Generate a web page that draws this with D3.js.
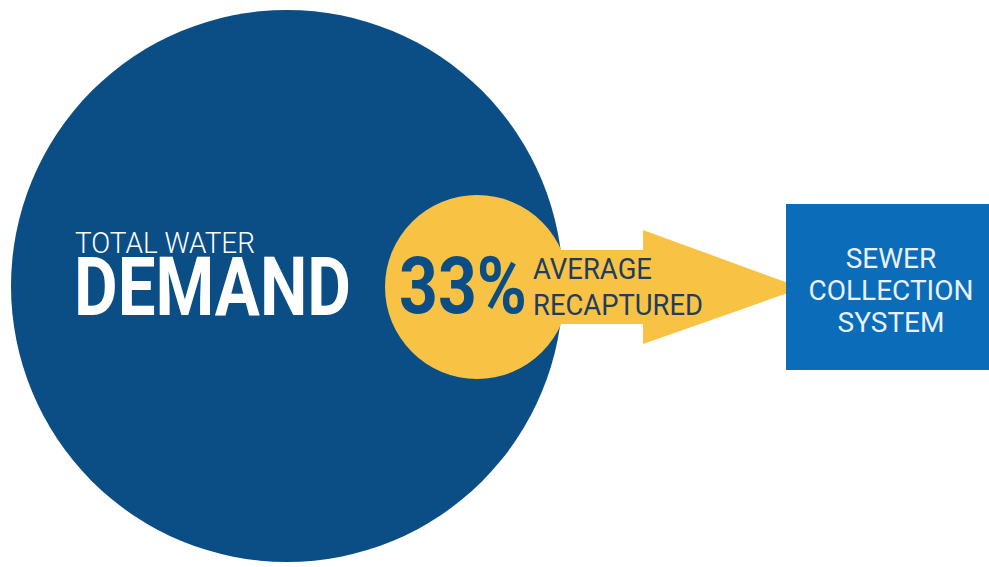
<!DOCTYPE html>
<html>
<head>
<meta charset="utf-8">
<script src="https://cdn.jsdelivr.net/npm/d3@7"></script>
<style>
  body { margin: 0; background: #fff; }
  svg { display: block; }
  text { font-family: Roboto, "Noto Sans", sans-serif; }
</style>
</head>
<body>
<div id="chart"></div>
<script>
// chart content
const demandLabel = ["TOTAL WATER", "DEMAND"];
const recapturedPct = [33];
const recapturedLabel = ["AVERAGE", "RECAPTURED"];
const sewerLabel = ["SEWER", "COLLECTION", "SYSTEM"];

const width = 989, height = 567;
const navy = "#0b4e86", gold = "#f8c245", sewerBlue = "#0b6cb9";

const svg = d3.select("#chart").append("svg")
    .attr("width", width)
    .attr("height", height);

// big demand circle
svg.append("circle")
    .attr("cx", 287)
    .attr("cy", 286)
    .attr("r", 276)
    .style("fill", navy);

// arrow to the sewer box
const arrow = d3.path();
arrow.moveTo(520, 250);
arrow.lineTo(643, 250);
arrow.lineTo(643, 230);
arrow.lineTo(802, 288);
arrow.lineTo(643, 344);
arrow.lineTo(643, 324);
arrow.lineTo(520, 324);
arrow.closePath();
svg.append("path")
    .attr("d", arrow.toString())
    .style("fill", gold);

// recaptured circle
svg.append("circle")
    .attr("cx", 477)
    .attr("cy", 287)
    .attr("r", 92)
    .style("fill", gold);

// sewer box
svg.append("rect")
    .attr("x", 786)
    .attr("y", 204)
    .attr("width", width - 786)
    .attr("height", 166)
    .style("fill", sewerBlue);

// demand text
svg.append("text")
    .attr("x", 75)
    .attr("y", 253)
    .attr("textLength", 180)
    .attr("lengthAdjust", "spacingAndGlyphs")
    .style("fill", "#fff")
    .style("font-weight", 300)
    .style("font-size", "29px")
    .text(demandLabel[0]);

svg.append("text")
    .attr("x", 74)
    .attr("y", 315)
    .attr("textLength", 277)
    .attr("lengthAdjust", "spacingAndGlyphs")
    .style("fill", "#fff")
    .style("font-weight", 700)
    .style("font-size", "81px")
    .text(demandLabel[1]);

// percentage
svg.selectAll(".pct")
    .data(recapturedPct)
    .enter().append("text")
    .attr("class", "pct")
    .attr("x", 399)
    .attr("y", 313)
    .attr("textLength", 128)
    .attr("lengthAdjust", "spacingAndGlyphs")
    .style("fill", navy)
    .style("font-weight", 700)
    .style("font-size", "79px")
    .text(d => `${d}%`);

const recapLengths = [119, 170];
svg.selectAll(".recap")
    .data(recapturedLabel)
    .enter().append("text")
    .attr("class", "recap")
    .attr("x", 533)
    .attr("y", (d, i) => 279 + i * 36)
    .attr("textLength", (d, i) => recapLengths[i])
    .attr("lengthAdjust", "spacingAndGlyphs")
    .style("fill", "#1f3d5e")
    .style("font-size", "29px")
    .text(d => d);

// sewer text
svg.selectAll(".sewer")
    .data(sewerLabel)
    .enter().append("text")
    .attr("class", "sewer")
    .attr("x", 891)
    .attr("y", (d, i) => 268 + i * 32)
    .attr("text-anchor", "middle")
    .style("fill", "#e8f1fa")
    .style("font-size", "28px")
    .text(d => d);
</script>
</body>
</html>
